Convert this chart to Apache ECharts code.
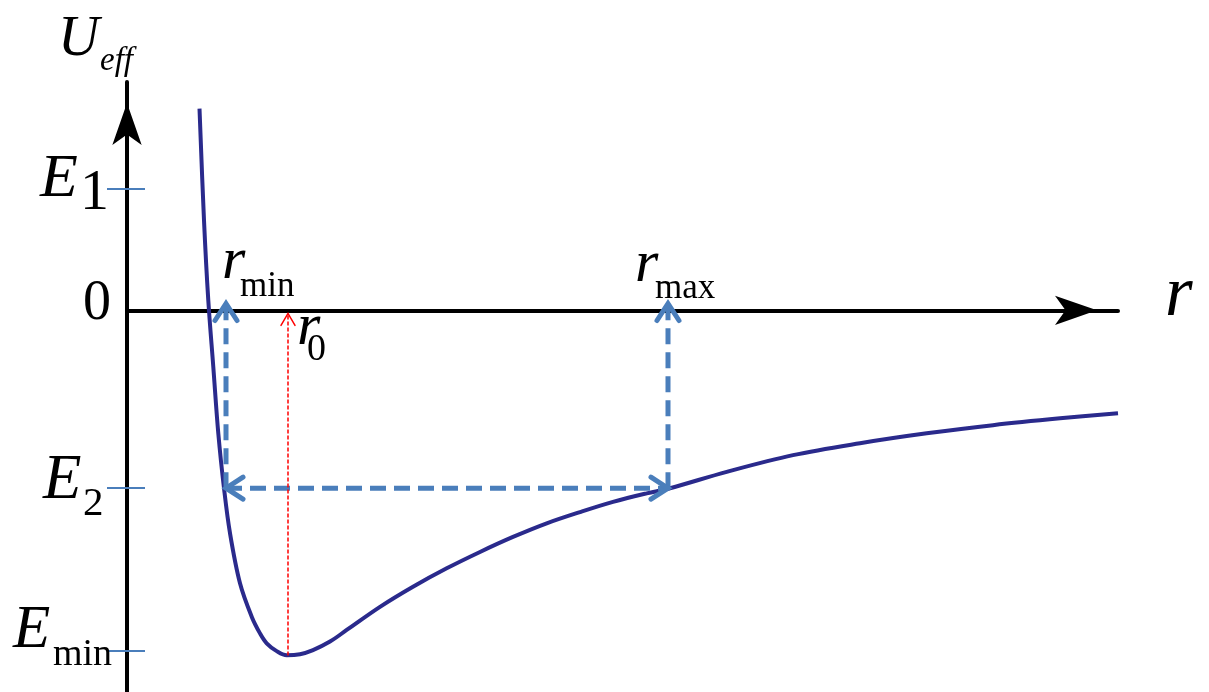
<!DOCTYPE html>
<html><head><meta charset="utf-8">
<script src="https://cdn.jsdelivr.net/npm/echarts@6/dist/echarts.min.js"></script>
<style>html,body{margin:0;padding:0;background:#fff}#c{width:1209px;height:692px}</style>
</head><body><div id="c"></div>
<script>
// ---- data (r in arbitrary units, U in units of |E_min|) ----
const curveR = [0.725, 0.77, 0.813, 0.863, 0.913, 0.97, 1.03, 1.13, 1.247, 1.33, 1.397, 1.497, 1.597, 1.73, 1.86, 2.03, 2.197, 2.53, 2.86, 3.197, 3.53, 3.86, 4.197, 4.53, 4.86, 5.197, 5.43, 5.997, 6.66, 7.33, 7.997, 8.66, 9.33, 9.91];
const curveU = [0.592, 0.264, 0.029, -0.166, -0.361, -0.522, -0.654, -0.801, -0.899, -0.948, -0.977, -1.0, -1.012, -1.009, -0.997, -0.972, -0.938, -0.870, -0.811, -0.757, -0.709, -0.665, -0.625, -0.592, -0.562, -0.537, -0.522, -0.474, -0.425, -0.390, -0.361, -0.337, -0.317, -0.302];
const levelNames = ['E1', 'E2', 'Emin'];
const levelValues = [0.358, -0.522, -1.0];
const rMin = 0.99, rMax = 5.41, r0 = 1.61;
const uCurveMin = -1.013;
const arrowTipU = 0.02;     // tip of the blue arrows just above the r axis
const redTipU = -0.009;
// arrows: [x1, y1, x2, y2, headAtStart, headAtEnd]
const blueArrows = [
  [rMin, levelValues[1], rMin, arrowTipU, 0, 1],
  [rMax, levelValues[1], rMax, arrowTipU, 0, 1],
  [rMin, levelValues[1], rMax, levelValues[1], 1, 1]
];
const redArrows = [[r0, uCurveMin, r0, redTipU, 0, 1]];
const xMin = 0, xMax = 9.91, yMin = -1.12, yMax = 0.67;

// ---- chart ----
const chart = echarts.init(document.getElementById('c'), null, {renderer: 'canvas'});

function chevron(tip, from, h, w) {
  const dx = tip[0] - from[0], dy = tip[1] - from[1];
  const len = Math.hypot(dx, dy) || 1;
  const ux = dx / len, uy = dy / len, nx = -uy, ny = ux;
  const bx = tip[0] - ux * h, by = tip[1] - uy * h;
  return [[bx + nx * w / 2, by + ny * w / 2], tip, [bx - nx * w / 2, by - ny * w / 2]];
}
function arrowRenderer(color, width, dash, headH, headW) {
  return function (params, api) {
    const p1 = api.coord([api.value(0), api.value(1)]);
    const p2 = api.coord([api.value(2), api.value(3)]);
    const children = [{
      type: 'line', shape: {x1: p1[0], y1: p1[1], x2: p2[0], y2: p2[1]},
      style: {stroke: color, lineWidth: width, lineDash: dash}
    }];
    if (api.value(4)) children.push({type: 'polyline', shape: {points: chevron(p1, p2, headH, headW)},
      style: {stroke: color, lineWidth: width, fill: null, lineJoin: 'miter', lineCap: 'round'}});
    if (api.value(5)) children.push({type: 'polyline', shape: {points: chevron(p2, p1, headH, headW)},
      style: {stroke: color, lineWidth: width, fill: null, lineJoin: 'miter', lineCap: 'round'}});
    return {type: 'group', children};
  };
}

const tickColor = '#4a7ebb';
chart.setOption({
  animation: false,
  backgroundColor: '#fff',
  grid: {left: 127, top: 82, width: 991, height: 610, containLabel: false},
  xAxis: {
    type: 'value', min: xMin, max: xMax,
    axisLine: {show: true, onZero: true, symbol: ['none', 'arrow'], symbolSize: [22, 42], symbolOffset: [0, -21],
      lineStyle: {color: '#000', width: 4}},
    axisTick: {show: false}, axisLabel: {show: false}, splitLine: {show: false}
  },
  yAxis: [{
    type: 'value', min: yMin, max: yMax, position: 'left',
    axisLine: {show: true, symbol: ['none', 'arrow'], symbolSize: [22, 42], symbolOffset: [0, -21],
      lineStyle: {color: '#000', width: 4}},
    axisTick: {show: true, customValues: levelValues, length: 20, inside: false, lineStyle: {color: tickColor, width: 2}},
    axisLabel: {show: false}, splitLine: {show: false}
  }, {
    type: 'value', min: yMin, max: yMax, position: 'left',
    axisLine: {show: false},
    axisTick: {show: true, customValues: levelValues, length: 18, inside: true, lineStyle: {color: tickColor, width: 2}},
    axisLabel: {show: false}, splitLine: {show: false}
  }],
  series: [{
    type: 'line', name: 'Ueff',
    data: curveR.map((r, i) => [r, curveU[i]]),
    showSymbol: false, smooth: 0.35, clip: false,
    lineStyle: {color: '#2a2a8c', width: 4}, z: 3
  }, {
    type: 'custom', name: 'blue', data: blueArrows, z: 4,
    renderItem: arrowRenderer(tickColor, 5, [16, 8], 17, 22)
  }, {
    type: 'custom', name: 'red', data: redArrows, z: 4,
    renderItem: arrowRenderer('#ff0000', 1.5, [4, 2], 12, 14)
  }]
});

// ---- labels (positions tied to the axis scales) ----
const yPix = v => chart.convertToPixel({yAxisIndex: 0}, v);
const xPix = v => chart.convertToPixel({xAxisIndex: 0}, v);
function txt(text, size, italic, x, baseline) {
  return {
    type: 'text', x: x, y: baseline - 0.3375 * size, z: 10,
    style: {text: text, fontFamily: 'Liberation Serif', fontSize: size, fontStyle: italic ? 'italic' : 'normal',
      fill: '#000', align: 'left', verticalAlign: 'middle'}
  };
}
const y0 = yPix(0), yE1 = yPix(levelValues[0]), yE2 = yPix(levelValues[1]), yEm = yPix(levelValues[2]);
const xRmin = xPix(rMin), xRmax = xPix(rMax), xR0 = xPix(r0);
const g = [
  txt('U', 57, true, 58, 59), txt('eff', 33, true, 100, 72),
  txt('E', 62, true, 40, yE1 + 12), txt('1', 58, false, 80, yE1 + 25),
  txt('0', 56, false, 83, y0 + 13),
  txt('E', 63, true, 43, yE2 + 14), txt('2', 41, false, 83, yE2 + 30),
  txt('E', 61, true, 13, yEm + 0), txt('min', 38, false, 53, yEm + 17),
  txt('r', 60, true, xRmin - 4, y0 - 28), txt('min', 35, false, xRmin + 14, y0 - 12),
  txt('r', 60, true, xRmax - 33, y0 - 25), txt('max', 35, false, xRmax - 13, y0 - 10),
  txt('r', 60, true, xR0 + 9, y0 + 38), txt('0', 38, false, xR0 + 19, y0 + 53),
  txt('r', 71, true, 1165, y0 + 10)
];
chart.setOption({graphic: {elements: g}});
</script></body></html>
